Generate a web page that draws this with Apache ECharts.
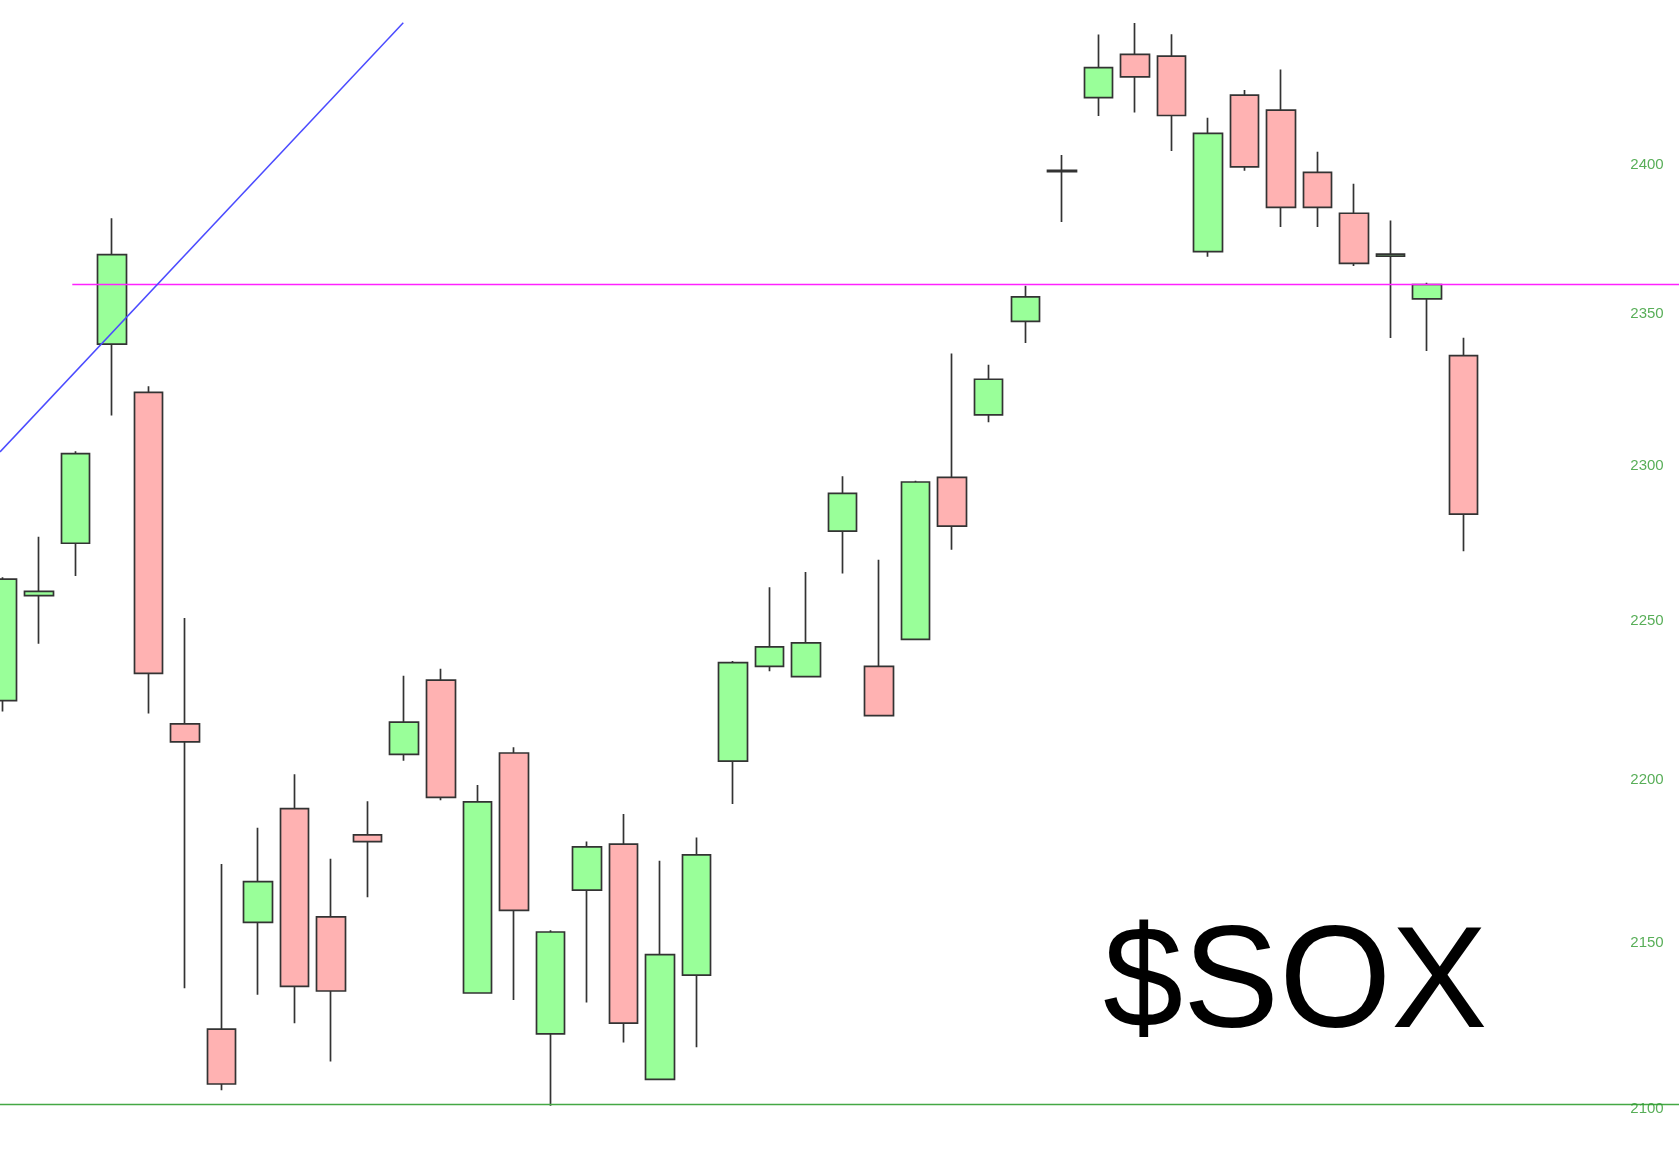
<!DOCTYPE html>
<html>
<head>
<meta charset="utf-8">
<script src="https://cdn.jsdelivr.net/npm/echarts@6/dist/echarts.min.js"></script>
<style>
html, body { margin: 0; padding: 0; background: #ffffff; }
#chart { width: 1679px; height: 1167px; }
</style>
</head>
<body>
<div id="chart"></div>
<script>
// ---- data ----
const sessions = [0,1,2,3,4,5,6,7,8,9,10,11,12,13,14,15,16,17,18,19,20,21,22,23,24,25,26,27,28,29,30,31,32,33,34,35,36,37,38,39,40];
const opens  = [2224.8,2258.1,2274.9,2339.9,2324.0,2217.5,2123.8,2156.1,2191.1,2157.8,2183.0,2208.0,2231.3,2134.7,2208.4,2122.4,2166.0,2180.1,2108.8,2140.1,2205.9,2235.6,2232.4,2278.8,2235.6,2244.2,2296.2,2316.6,2347.4,2398.1,2422.9,2437.8,2437.2,2370.7,2423.8,2418.6,2397.4,2383.6,2369.2,2354.9,2336.1];
const closes = [2263.4,2259.5,2303.9,2369.7,2233.4,2211.9,2107.4,2168.6,2136.7,2135.3,2180.9,2218.1,2194.6,2193.2,2159.8,2153.2,2179.3,2125.6,2146.3,2176.8,2236.8,2241.8,2243.1,2291.0,2220.1,2294.7,2280.4,2328.3,2355.6,2397.7,2433.2,2430.0,2416.8,2410.7,2399.3,2385.6,2385.6,2366.8,2369.9,2359.7,2284.3];
const lows   = [2221.4,2242.8,2264.4,2316.4,2220.8,2136.1,2105.5,2134.2,2125.6,2114.1,2163.8,2206.0,2193.7,2134.5,2132.6,2100.9,2131.8,2119.8,2108.6,2118.4,2192.5,2234.1,2232.2,2265.2,2219.9,2244.0,2272.8,2314.2,2340.3,2380.7,2416.6,2417.8,2404.7,2369.0,2398.0,2379.0,2379.0,2365.9,2341.9,2337.6,2272.3];
const highs  = [2264.0,2277.0,2304.7,2381.9,2326.0,2251.0,2174.0,2185.2,2201.8,2175.6,2193.4,2232.7,2234.9,2198.4,2210.2,2153.7,2180.9,2189.4,2175.0,2182.2,2237.3,2260.8,2265.7,2296.6,2269.6,2295.1,2336.8,2333.1,2359.3,2403.3,2444.6,2448.6,2444.7,2416.0,2425.5,2432.6,2404.4,2393.6,2381.2,2360.3,2342.0];
const tickValues = [2100, 2150, 2200, 2250, 2300, 2350, 2400];
const resistanceLevel = 2359.7;
const resistanceStart = 1.913;
const supportLevel = 2101.3;
const trendX = [-0.0657, 10.974];
const trendY = [2304.5, 2448.7];
const labelColumn = 45.02;
const titleText = '$SOX';

// ---- chart ----
const chart = echarts.init(document.getElementById('chart'), null, { renderer: 'canvas' });
const candleData = sessions.map((s, i) => [s, opens[i], closes[i], lows[i], highs[i]]);
const xMin = -0.0657, xMax = 45.896;

const option = {
  animation: false,
  backgroundColor: '#ffffff',
  grid: { left: 0, right: 0, top: 0, bottom: 0, containLabel: false },
  xAxis: { type: 'value', min: xMin, max: xMax, show: false },
  yAxis: { type: 'log', logBase: 10, min: 2082.8, max: 2456.6, show: false },
  series: [
    {
      type: 'candlestick',
      data: candleData,
      encode: { x: 0, y: [1, 2, 3, 4] },
      barWidth: 29,
      z: 2,
      silent: true,
      itemStyle: {
        color: '#99ff99',
        color0: '#ffb2b2',
        borderColor: '#333333',
        borderColor0: '#333333',
        borderColorDoji: '#333333',
        borderWidth: 1.7
      },
      emphasis: { disabled: true }
    },
    {
      type: 'line',
      data: [[resistanceStart, resistanceLevel], [xMax + 1, resistanceLevel]],
      symbol: 'none', silent: true, z: 3,
      lineStyle: { color: '#ff22ff', width: 1.6 }
    },
    {
      type: 'line',
      data: [[xMin - 1, supportLevel], [xMax + 1, supportLevel]],
      symbol: 'none', silent: true, z: 3,
      lineStyle: { color: '#44a844', width: 1.5 }
    },
    {
      type: 'line',
      data: [[trendX[0], trendY[0]], [trendX[1], trendY[1]]],
      symbol: 'none', silent: true, z: 3,
      lineStyle: { color: '#4b4bff', width: 1.5 }
    },
    {
      type: 'scatter',
      data: tickValues.map(v => [labelColumn, v]),
      symbolSize: 0,
      silent: true,
      z: 4,
      label: {
        show: true,
        position: 'inside',
        color: '#2e9a2e',
        fontSize: 15,
        fontFamily: 'Liberation Sans',
        formatter: p => String(p.value[1])
      }
    }
  ],
  graphic: [
    {
      type: 'text',
      left: 1103,
      top: 915,
      silent: true,
      style: {
        text: titleText,
        fill: '#000000',
        font: '144px "Liberation Sans", Arial, sans-serif'
      }
    }
  ]
};
chart.setOption(option);
</script>
</body>
</html>
